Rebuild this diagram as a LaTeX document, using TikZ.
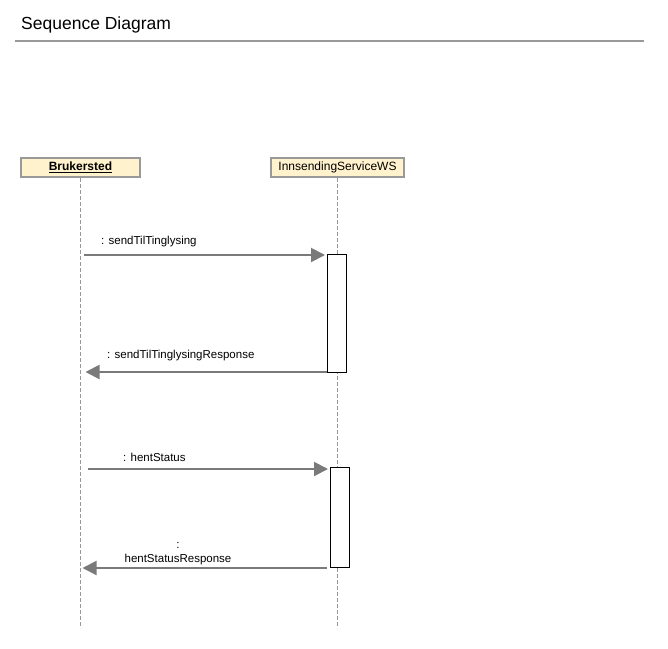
\documentclass[tikz,border=0pt]{standalone}
\usepackage{fontspec}
\setmainfont{Liberation Sans}
\usetikzlibrary{arrows.meta}

\definecolor{linegray}{HTML}{999999}
\definecolor{msggray}{HTML}{7A7A7A}
\definecolor{headfill}{HTML}{FFF2CC}

\tikzset{
  head/.style={draw=linegray, line width=2pt, fill=headfill, minimum height=19pt, inner sep=0pt, font=\fontsize{12}{14}\selectfont},
  life/.style={draw=linegray, line width=1pt, dash pattern=on 4pt off 2pt},
  act/.style={draw=black, fill=white, line width=1pt, anchor=north west, inner sep=0pt, minimum width=19pt},
  msg/.style={draw=msggray, line width=2pt, -{Triangle[length=14pt,width=14pt]}},
  lbl/.style={anchor=west, inner sep=0pt, font=\fontsize{11.5}{14}\selectfont},
}

\begin{document}
\begin{tikzpicture}[x=1pt,y=-1pt]
    \useasboundingbox (0,0) rectangle (668,648);
    % title
    \node[anchor=west, inner sep=0pt] (title) at (21,25) {\fontsize{17.5}{20}\selectfont Sequence Diagram};
    \coordinate (rulel) at (15,41);
    \coordinate (ruler) at (644,41);
    \draw[linegray, line width=2pt] (rulel) -- (ruler);

    % participants
    \node[head, minimum width=119pt] (bruk) at (80.5,167.5) {\underline{\textbf{Brukersted}}};
    \node[head, minimum width=133pt] (ws) at (337.5,167.5) {InnsendingServiceWS};
    \coordinate (brukend) at (80,628);
    \coordinate (wsend) at (338,628);
    \draw[life] (bruk.south) -- (bruk.south |- brukend);
    \draw[life] (ws.south) -- (ws.south |- wsend);

    % activations
    \node[act, minimum height=118pt] (act1) at (327,254) {};
    \node[act, minimum height=100pt] (act2) at (330,467) {};

    % messages
    \coordinate (m1) at (84,255);
    \coordinate (m3) at (88,469);
    \draw[msg, shorten >=2pt] (m1) -- (m1 -| act1.west);
    \draw[msg, shorten >=5pt] ([yshift=1pt]act1.south west) -- ([yshift=1pt]act1.south west -| bruk.south);
    \draw[msg, shorten >=2pt] (m3) -- (m3 -| act2.west);
    \draw[msg, shorten >=2pt, shorten <=3pt] (act2.south west) -- (act2.south west -| bruk.south);

    \node[lbl] (l1) at (101,242) {: sendTilTinglysing};
    \node[lbl] (l2) at (107,356) {: sendTilTinglysingResponse};
    \node[lbl] (l3) at (123,457) {: hentStatus};
    \node[lbl, anchor=center, align=center] (l4) at (178,554) {:\\hentStatusResponse};
\end{tikzpicture}
\end{document}
